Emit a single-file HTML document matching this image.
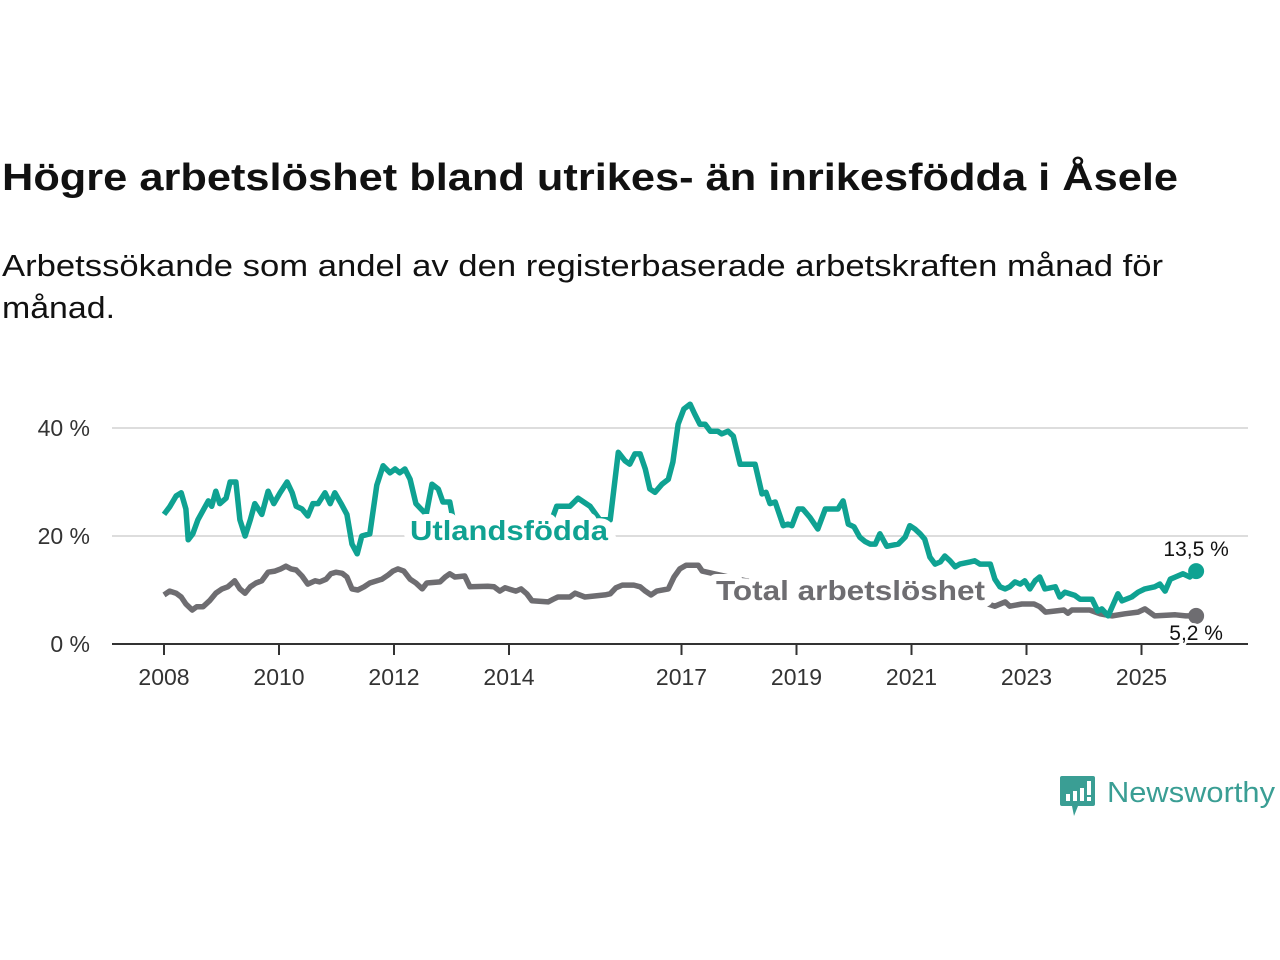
<!DOCTYPE html>
<html><head><meta charset="utf-8">
<style>
html,body{margin:0;padding:0;background:#fff;}
svg{display:block;font-family:"Liberation Sans",sans-serif;}
</style></head>
<body>
<svg id="chart" width="1280" height="960" viewBox="0 0 1280 960" xmlns="http://www.w3.org/2000/svg">
  <text x="2" y="190" font-size="38" font-weight="bold" fill="#111" textLength="1176" lengthAdjust="spacingAndGlyphs">Högre arbetslöshet bland utrikes- än inrikesfödda i Åsele</text>
  <text x="2" y="276" font-size="31" fill="#111" textLength="1161" lengthAdjust="spacingAndGlyphs">Arbetssökande som andel av den registerbaserade arbetskraften månad för</text>
  <text x="2" y="318" font-size="31" fill="#111" textLength="113" lengthAdjust="spacingAndGlyphs">månad.</text>
  <g id="grid"></g>
  <g id="axes"></g>
  <g id="series"></g>
  <g id="labels"></g>
  <g>
    <path d="M1062,776 h31 a2,2 0 0 1 2,2 v26 a2,2 0 0 1 -2,2 h-15 l-4,10 l-2,-10 h-10 a2,2 0 0 1 -2,-2 v-26 a2,2 0 0 1 2,-2z" fill="#3a9e94"/>
    <rect x="1066" y="794" width="4" height="7" fill="#fff"/>
    <rect x="1073" y="791" width="4" height="10" fill="#fff"/>
    <rect x="1080" y="788" width="4" height="13" fill="#fff"/>
    <rect x="1087" y="781" width="4" height="14" fill="#fff"/>
    <rect x="1087" y="797" width="4" height="4" fill="#fff"/>
    <text x="1107" y="802" font-size="29" fill="#3a9e94" textLength="168" lengthAdjust="spacingAndGlyphs">Newsworthy</text>
  </g>
</svg>
<script>
const utlYears = [2008.00,2008.10,2008.21,2008.30,2008.38,2008.42,2008.50,2008.59,2008.77,2008.83,2008.90,2008.97,2009.08,2009.15,2009.25,2009.32,2009.41,2009.50,2009.58,2009.70,2009.81,2009.91,2010.02,2010.14,2010.23,2010.30,2010.40,2010.50,2010.59,2010.68,2010.80,2010.89,2010.97,2011.08,2011.18,2011.27,2011.36,2011.44,2011.58,2011.70,2011.81,2011.93,2012.02,2012.10,2012.19,2012.28,2012.38,2012.47,2012.56,2012.66,2012.77,2012.85,2012.97,2013.03,2013.32,2013.84,2014.37,2014.71,2014.83,2015.06,2015.20,2015.41,2015.58,2015.76,2015.90,2016.02,2016.10,2016.19,2016.28,2016.37,2016.45,2016.54,2016.66,2016.77,2016.85,2016.94,2017.04,2017.15,2017.23,2017.32,2017.41,2017.50,2017.63,2017.70,2017.81,2017.90,2018.02,2018.28,2018.40,2018.47,2018.54,2018.63,2018.77,2018.85,2018.92,2019.03,2019.11,2019.23,2019.37,2019.50,2019.72,2019.81,2019.90,2020.00,2020.10,2020.19,2020.28,2020.37,2020.45,2020.57,2020.77,2020.89,2020.97,2021.06,2021.15,2021.23,2021.32,2021.41,2021.50,2021.58,2021.67,2021.76,2021.84,2022.02,2022.10,2022.19,2022.37,2022.45,2022.54,2022.63,2022.71,2022.80,2022.89,2022.97,2023.06,2023.15,2023.23,2023.32,2023.50,2023.58,2023.67,2023.84,2023.93,2024.14,2024.24,2024.31,2024.42,2024.49,2024.59,2024.66,2024.83,2024.94,2025.06,2025.23,2025.32,2025.41,2025.50,2025.59,2025.72,2025.84,2025.95];
const utlValues = [24,25.4,27.4,28,25,19.3,20.4,23,26.5,25.5,28.3,26,27,30,30,23,20,23,26,24,28.3,26,28,30,28,25.5,25,23.7,26,26,28,26,28,26,24,18.5,16.7,20,20.4,29.4,33,31.7,32.4,31.7,32.4,30.5,26,25,24,29.6,28.7,26.3,26.3,23,21.5,21,21.5,22,25.5,25.5,27,25.5,23,23,35.5,33.9,33.3,35.2,35.2,32.4,28.7,28.1,29.6,30.5,33.7,40.7,43.5,44.4,42.6,40.7,40.7,39.4,39.4,38.9,39.4,38.5,33.3,33.3,27.8,28.1,26,26.3,21.9,22.2,21.9,25,25,23.5,21.3,25,25,26.5,22.2,21.7,19.8,19,18.5,18.5,20.4,18.1,18.5,19.8,21.9,21.3,20.4,19.4,16.1,14.8,15.2,16.3,15.4,14.3,14.8,15.2,15.4,14.8,14.8,12,10.6,10.2,10.6,11.5,11.1,11.7,10.2,11.7,12.4,10.2,10.6,8.7,9.6,9,8.3,8.3,6.1,6.5,5.2,6.9,9.3,8,8.7,9.6,10.2,10.6,11.1,9.8,12,12.4,13,12.4,13.5];
const totYears = [2008.00,2008.10,2008.21,2008.30,2008.38,2008.49,2008.57,2008.68,2008.80,2008.90,2009.01,2009.11,2009.23,2009.32,2009.41,2009.50,2009.60,2009.70,2009.81,2009.93,2010.03,2010.12,2010.21,2010.30,2010.40,2010.50,2010.63,2010.71,2010.82,2010.90,2010.99,2011.10,2011.18,2011.27,2011.37,2011.48,2011.58,2011.79,2011.90,2011.98,2012.07,2012.17,2012.28,2012.38,2012.49,2012.57,2012.80,2012.89,2012.97,2013.06,2013.23,2013.32,2013.63,2013.74,2013.84,2013.93,2014.12,2014.21,2014.31,2014.40,2014.68,2014.77,2014.85,2015.06,2015.15,2015.32,2015.67,2015.76,2015.86,2015.97,2016.17,2016.28,2016.37,2016.47,2016.57,2016.77,2016.87,2016.97,2017.08,2017.29,2017.36,2017.57,2018.37,2019.06,2019.76,2020.45,2021.15,2021.84,2022.28,2022.45,2022.63,2022.71,2022.92,2023.13,2023.23,2023.33,2023.65,2023.72,2023.79,2024.10,2024.28,2024.37,2024.49,2024.71,2024.94,2025.06,2025.23,2025.59,2025.77,2025.95];
const totValues = [9.1,9.8,9.4,8.7,7.4,6.3,6.9,6.9,8.1,9.4,10.2,10.6,11.7,10.2,9.4,10.6,11.3,11.7,13.3,13.5,13.9,14.4,13.9,13.7,12.6,11.1,11.7,11.5,12,13,13.3,13.1,12.4,10.2,10,10.6,11.3,12,12.8,13.5,13.9,13.5,12,11.3,10.2,11.3,11.5,12.4,13,12.4,12.6,10.6,10.7,10.6,9.8,10.4,9.8,10.2,9.3,8,7.8,8.3,8.7,8.7,9.4,8.7,9.1,9.3,10.4,10.9,10.9,10.6,9.8,9.1,9.8,10.2,12.4,13.9,14.6,14.6,13.5,13,11.1,10.2,9.8,9.6,9.3,8.3,7.6,7,7.8,7,7.4,7.4,6.9,5.9,6.3,5.7,6.3,6.3,5.6,5.4,5.2,5.6,5.9,6.5,5.2,5.4,5.2,5.2];
const xTickYears = [2008,2010,2012,2014,2017,2019,2021,2023,2025];
const xTickLabels = ["2008","2010","2012","2014","2017","2019","2021","2023","2025"];
const yTickValues = [0,20,40];
const yTickLabels = ["0 %","20 %","40 %"];
const lastLabels = ["13,5 %","5,2 %"];

const NS="http://www.w3.org/2000/svg";
function xScale(y){return 164+(y-2008)*57.5;}
function yScale(v){return 644-v*5.4;}
function mk(tag,attrs,parent){const e=document.createElementNS(NS,tag);for(const k in attrs)e.setAttribute(k,attrs[k]);parent.appendChild(e);return e;}

const grid=document.getElementById('grid'),axes=document.getElementById('axes'),series=document.getElementById('series'),labels=document.getElementById('labels');
yTickValues.forEach((v,i)=>{
  if(v>0){const g=mk('line',{x1:112,x2:1248,y1:yScale(v),y2:yScale(v),stroke:'#dddddd','stroke-width':2},grid);
  
  }
  const t=mk('text',{x:90,y:yScale(v)+8,'font-size':23,fill:'#333','text-anchor':'end'},axes);
  t.textContent=yTickLabels[i];
  
  
});
const ax=mk('line',{x1:112,x2:1248,y1:644,y2:644,stroke:'#333','stroke-width':2},axes);


xTickYears.forEach((yr,i)=>{
  const tk=mk('line',{x1:xScale(yr),x2:xScale(yr),y1:644,y2:655,stroke:'#333','stroke-width':2},axes);
  
  
  const t=mk('text',{x:xScale(yr),y:685,'font-size':23,fill:'#333','text-anchor':'middle'},axes);
  t.textContent=xTickLabels[i];
  
  
});
function path(ys,vs){return ys.map((y,i)=>(i?'L':'M')+xScale(y).toFixed(1)+','+yScale(vs[i]).toFixed(1)).join('');}
const tl=mk('path',{d:path(totYears,totValues),fill:'none',stroke:'#6e6d71','stroke-width':5.5,'stroke-linejoin':'round'},series);


const ul=mk('path',{d:path(utlYears,utlValues),fill:'none',stroke:'#0fa292','stroke-width':5.5,'stroke-linejoin':'round'},series);


const lu=utlYears.length-1, lt=totYears.length-1;
const d1=mk('circle',{cx:xScale(utlYears[lu]),cy:yScale(utlValues[lu]),r:8,fill:'#0fa292'},series);


const d2=mk('circle',{cx:xScale(totYears[lt]),cy:yScale(totValues[lt]),r:8,fill:'#6e6d71'},series);



const l1=mk('text',{x:410,y:540,'font-size':28,'font-weight':'bold',fill:'#0fa292',textLength:198,lengthAdjust:'spacingAndGlyphs',stroke:'#fff','stroke-width':14,'paint-order':'stroke','stroke-linejoin':'round'},labels);
l1.textContent='Utlandsfödda';


const l2=mk('text',{x:716,y:600,'font-size':28,'font-weight':'bold',fill:'#6e6d71',textLength:269,lengthAdjust:'spacingAndGlyphs',stroke:'#fff','stroke-width':14,'paint-order':'stroke','stroke-linejoin':'round'},labels);
l2.textContent='Total arbetslöshet';


const v1=mk('text',{x:xScale(utlYears[lu]),y:yScale(utlValues[lu])-15,'font-size':21,fill:'#111','text-anchor':'middle',stroke:'#fff','stroke-width':5,'paint-order':'stroke'},labels);
v1.textContent=lastLabels[0];


const v2=mk('text',{x:xScale(totYears[lt]),y:yScale(totValues[lt])+24,'font-size':21,fill:'#111','text-anchor':'middle',stroke:'#fff','stroke-width':5,'paint-order':'stroke'},labels);
v2.textContent=lastLabels[1];


</script>
</body></html>
